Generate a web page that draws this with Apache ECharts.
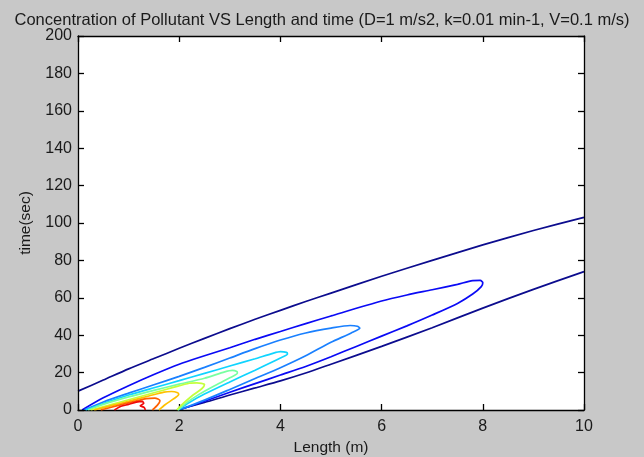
<!DOCTYPE html>
<html>
<head>
<meta charset="utf-8">
<script src="https://cdn.jsdelivr.net/npm/echarts@6/dist/echarts.min.js"></script>
<style>
  html, body { margin: 0; padding: 0; background: #c8c8c8; }
  #chart { width: 644px; height: 457px; }
</style>
</head>
<body>
<div id="chart"></div>
<script>
// Contour lines of pollutant concentration C(x, t), as [length (m), time (s)] points.
// Levels run from the lowest (outermost, dark blue) to the highest (innermost, red).
const level1Upper = [[0, 10.1], [0.5, 16], [1, 22], [1.5, 27.5], [2, 33], [2.5, 38.3], [3, 43.5], [3.5, 48.5], [4, 53.3], [4.5, 58], [5, 62.5], [6, 71.5], [7, 80], [8, 88.3], [9, 96], [10, 103]];
const level1Lower = [[1.95, 0], [2.5, 4], [3, 8], [3.5, 11.8], [4, 15.6], [4.5, 19.8], [5, 24.5], [6, 34], [7, 44], [8, 54.5], [9, 64.5], [10, 74]];
const level2 = [[0.08, 0], [0.5, 6.5], [1, 13], [1.5, 19], [2, 24.5], [2.5, 29], [3, 33.3], [3.5, 37.8], [4, 42], [4.5, 46.2], [5, 50.3], [6, 58.3], [6.5, 61.5], [7, 64.3], [7.5, 67.2], [7.8, 69.2], [7.95, 69.3], [8.0, 68], [7.97, 66], [7.8, 62], [7.5, 57], [7.0, 50.8], [6.5, 45], [6.0, 39.5], [5.5, 34], [5.0, 28.5], [4.5, 23.3], [4.0, 18.7], [3.5, 14.1], [3.0, 9.5], [2.5, 4.7], [2.0, 0]];
const level3 = [[0.12, 0], [0.5, 4.3], [1, 9], [1.5, 13.5], [2, 18], [2.5, 22.8], [3, 27.8], [3.5, 32.8], [4, 37.4], [4.5, 41.2], [5, 43.8], [5.38, 45.2], [5.52, 44.8], [5.57, 43.8], [5.4, 41.2], [5.0, 36.2], [4.5, 29], [4.0, 22.6], [3.5, 16.8], [3.0, 11], [2.5, 5.3], [2.0, 0]];
const level4 = [[0.15, 0], [0.5, 3.5], [1, 8], [1.5, 11.9], [2, 15.7], [2.5, 19.6], [3, 23.5], [3.5, 27.4], [3.85, 30.3], [4.0, 31.2], [4.12, 30.8], [4.14, 30], [4.0, 27.8], [3.5, 21.3], [3.0, 15], [2.5, 8.5], [2.2, 4], [1.98, 0]];
const level5 = [[0.2, 0], [0.5, 3], [1, 7], [1.5, 10.5], [2, 13.8], [2.5, 17], [2.9, 20.4], [3.05, 21.2], [3.14, 20.6], [3.15, 19.8], [3.0, 17.2], [2.7, 13], [2.4, 8.5], [2.15, 4], [1.97, 0]];
const level6 = [[0.25, 0], [0.6, 2.5], [1, 5.5], [1.5, 9.2], [1.9, 12.2], [2.2, 14.3], [2.35, 14.5], [2.5, 13.6], [2.45, 11.5], [2.25, 7.5], [2.08, 3.5], [1.95, 0]];
const level7 = [[0.32, 0], [0.7, 2.6], [1, 4.6], [1.4, 7.5], [1.7, 9.6], [1.85, 9.9], [1.97, 9.2], [1.99, 8.3], [1.88, 5.8], [1.72, 2.8], [1.6, 0]];
const level8 = [[0.45, 0], [0.8, 2.5], [1.1, 4.5], [1.35, 6.1], [1.52, 6.4], [1.62, 5], [1.57, 2.6], [1.47, 0]];
const level9 = [[0.72, 0], [0.85, 2], [1.0, 3], [1.15, 4.2], [1.27, 4.6], [1.3, 3.6], [1.23, 2.3], [1.31, 1.3], [1.33, 0]];

// Line colours of the contour levels (jet colormap).
const levelColors = ['#0c0c8e', '#0a0af5', '#1a80ff', '#10d4ff', '#78ffa0', '#c4ff3c', '#ffc000', '#ff6000', '#f00a0a'];

// Axis scales and labels.
const xRange = [0, 10];
const xStep = 2;
const yRange = [0, 200];
const yStep = 20;
const titleText = 'Concentration of Pollutant VS Length and time (D=1 m/s2, k=0.01 min-1, V=0.1 m/s)';
const xLabel = 'Length (m)';
const yLabel = 'time(sec)';

const contours = [
  { data: level1Upper, level: 0 },
  { data: level1Lower, level: 0 },
  { data: level2, level: 1 },
  { data: level3, level: 2 },
  { data: level4, level: 3 },
  { data: level5, level: 4 },
  { data: level6, level: 5 },
  { data: level7, level: 6 },
  { data: level8, level: 7 },
  { data: level9, level: 8 }
];

const fontFamily = '"Liberation Sans", Arial, sans-serif';
const textColor = '#1a1a1a';

// Every side of the plot box carries its own line and inward ticks.
function boxAxis(extra) {
  return Object.assign({
    type: 'value',
    z: 5,
    axisLine: { show: true, onZero: false, lineStyle: { color: '#000', width: 1.3 } },
    axisTick: { show: true, inside: true, length: 6, lineStyle: { color: '#000', width: 1.3 } },
    splitLine: { show: false },
    axisLabel: { show: false }
  }, extra);
}

const chart = echarts.init(document.getElementById('chart'), null, { renderer: 'canvas' });

chart.setOption({
  backgroundColor: '#c8c8c8',
  animation: false,
  title: {
    text: titleText,
    left: 'center',
    top: 7,
    textStyle: { fontFamily: fontFamily, fontSize: 16.5, fontWeight: 'normal', color: textColor }
  },
  grid: {
    left: 78, right: 60, top: 36, bottom: 47,
    show: true, backgroundColor: '#ffffff', borderWidth: 0,
    outerBoundsMode: 'none', containLabel: false
  },
  xAxis: [
    boxAxis({
      min: xRange[0], max: xRange[1], interval: xStep,
      position: 'bottom',
      name: xLabel, nameLocation: 'middle', nameGap: 29,
      nameTextStyle: { fontFamily: fontFamily, fontSize: 15.5, color: textColor },
      axisLabel: { show: true, margin: 9, fontFamily: fontFamily, fontSize: 16, color: textColor }
    }),
    boxAxis({ min: xRange[0], max: xRange[1], interval: xStep, position: 'top' })
  ],
  yAxis: [
    boxAxis({
      min: yRange[0], max: yRange[1], interval: yStep,
      position: 'left',
      name: yLabel, nameLocation: 'middle', nameGap: 44, nameRotate: 90,
      nameTextStyle: { fontFamily: fontFamily, fontSize: 15.5, color: textColor },
      axisLabel: { show: true, margin: 6, fontFamily: fontFamily, fontSize: 16, color: textColor }
    }),
    boxAxis({ min: yRange[0], max: yRange[1], interval: yStep, position: 'right' })
  ],
  series: contours.map(function (c) {
    return {
      type: 'line',
      xAxisIndex: 0,
      yAxisIndex: 0,
      data: c.data,
      showSymbol: false,
      smooth: 0.25,
      clip: true,
      lineStyle: { color: levelColors[c.level], width: 1.7 },
      z: 2 + c.level
    };
  })
});
</script>
</body>
</html>
